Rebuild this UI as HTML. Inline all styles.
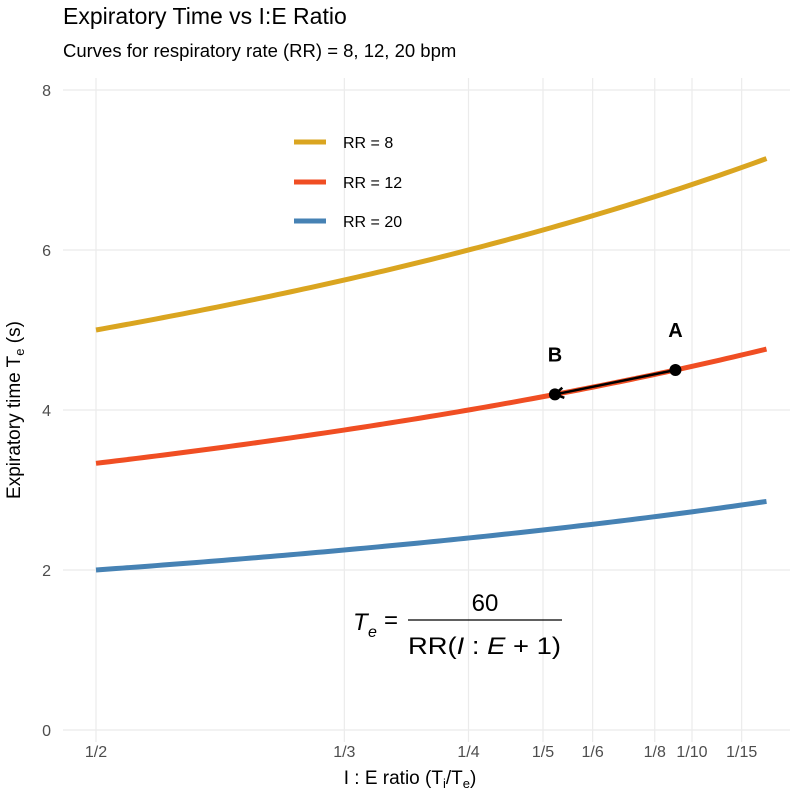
<!DOCTYPE html>
<html><head><meta charset="utf-8"><style>
body{margin:0;background:#fff;font-family:"Liberation Sans",sans-serif}
svg text{font-family:"Liberation Sans",sans-serif}
</style></head><body>
<svg id="chart" width="800" height="795" viewBox="0 0 800 795">
<text x="63" y="24" font-size="23" fill="#000">Expiratory Time vs I:E Ratio</text>
<text x="63" y="57" font-size="18.5" fill="#000">Curves for respiratory rate (RR) = 8, 12, 20 bpm</text>
<g id="grid"></g>
<g id="axes"></g>
<g id="series"></g>
<g id="annot"></g>
<g>
 <line x1="294" x2="326" y1="142" y2="142" stroke="#DAA520" stroke-width="5"/>
 <text x="343" y="148" font-size="16">RR = 8</text>
 <line x1="294" x2="326" y1="182" y2="182" stroke="#F04E23" stroke-width="5"/>
 <text x="343" y="188" font-size="16">RR = 12</text>
 <line x1="294" x2="326" y1="221" y2="221" stroke="#4682B4" stroke-width="5"/>
 <text x="343" y="227" font-size="16">RR = 20</text>
</g>
<g font-size="24">
 <text x="353" y="630" font-style="italic">T</text>
 <text x="368" y="637" font-size="16" font-style="italic">e</text>
 <text x="384" y="628">=</text>
 <text x="485" y="611" text-anchor="middle">60</text>
 <line x1="408" x2="562" y1="620" y2="620" stroke="#000" stroke-width="1.3"/>
 <text x="408" y="654" textLength="153" lengthAdjust="spacingAndGlyphs">RR(<tspan font-style="italic">I</tspan> : <tspan font-style="italic">E</tspan> + 1)</text>
</g>
<text x="410" y="784" font-size="19" text-anchor="middle">I : E ratio (T<tspan font-size="13" dy="4">i</tspan><tspan dy="-4">/T</tspan><tspan font-size="13" dy="4">e</tspan><tspan dy="-4">)</tspan></text>
<text transform="translate(20,410) rotate(-90)" font-size="19" text-anchor="middle">Expiratory time T<tspan font-size="13" dy="4">e</tspan><tspan dy="-4"> (s)</tspan></text>
</svg>
<script>
const rrValues=[8,12,20];
const seriesColors=["#DAA520","#F04E23","#4682B4"];
const xTickValues=[1/2,1/3,1/4,1/5,1/6,1/8,1/10,1/15];
const xTickLabels=["1/2","1/3","1/4","1/5","1/6","1/8","1/10","1/15"];
const yTicks=[0,2,4,6,8];
const ratioRange=[0.5,0.05];
const pointA=[1/9,12];
const pointB=[0.192,12];
const NS="http://www.w3.org/2000/svg";
function xs(r){return 96+(0.5-r)*1490;}
function ys(v){return 730-v*80;}
function te(rr,r){return 60/(rr*(r+1));}
function mk(tag,attrs,parent){const e=document.createElementNS(NS,tag);for(const k in attrs)e.setAttribute(k,attrs[k]);parent.appendChild(e);return e;}
const grid=document.getElementById('grid'),axes=document.getElementById('axes'),ser=document.getElementById('series'),ann=document.getElementById('annot');
yTicks.forEach(v=>{
 const l=mk('line',{x1:63,x2:790,y1:ys(v),y2:ys(v),stroke:'#ebebeb','stroke-width':1.2},grid);
 
 
 const t=mk('text',{x:51,y:ys(v)+6,'font-size':16,fill:'#4d4d4d','text-anchor':'end'},axes);t.textContent=v;
 
 
});
xTickValues.forEach((r,i)=>{
 const l=mk('line',{x1:xs(r),x2:xs(r),y1:78,y2:742,stroke:'#ebebeb','stroke-width':1.2},grid);
 
 
 const t=mk('text',{x:xs(r),y:757,'font-size':16,fill:'#4d4d4d','text-anchor':'middle'},axes);t.textContent=xTickLabels[i];
 
 
});
rrValues.forEach((rr,i)=>{
 let d='';const N=100;
 for(let k=0;k<=N;k++){const r=ratioRange[0]+(ratioRange[1]-ratioRange[0])*k/N;d+=(k?'L':'M')+xs(r).toFixed(2)+','+ys(te(rr,r)).toFixed(2);}
 const p=mk('path',{d:d,fill:'none',stroke:seriesColors[i],'stroke-width':5},ser);
 
 
});
const ax=xs(pointA[0]),ay=ys(te(pointA[1],pointA[0])),bx=xs(pointB[0]),by=ys(te(pointB[1],pointB[0]));
const ar=mk('line',{x1:ax,y1:ay,x2:bx,y2:by,stroke:'#000','stroke-width':2.5},ann);


const ang=Math.atan2(by-ay,bx-ax);
const hd=mk('path',{d:`M${bx+10*Math.cos(ang+2.6)},${by+10*Math.sin(ang+2.6)}L${bx},${by}L${bx+10*Math.cos(ang-2.6)},${by+10*Math.sin(ang-2.6)}`,fill:'none',stroke:'#000','stroke-width':2.5},ann);


[[ax,ay,'A'],[bx,by,'B']].forEach(p=>{
 const c=mk('circle',{cx:p[0],cy:p[1],r:6,fill:'#000'},ann);
 
 
 const t=mk('text',{x:p[0],y:p[1]-33,'font-size':20,'font-weight':'bold','text-anchor':'middle'},ann);t.textContent=p[2];
 
 
});
</script>
</body></html>
